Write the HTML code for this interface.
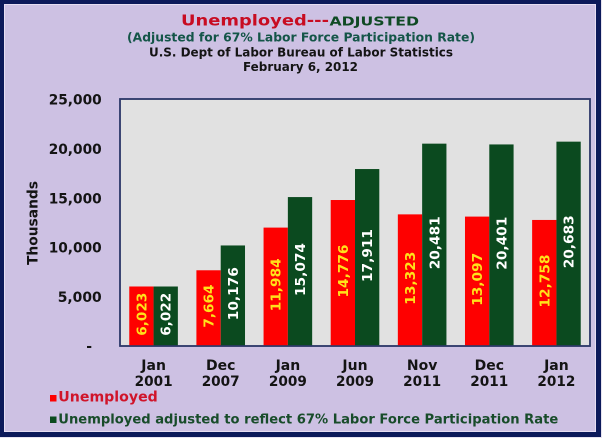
<!DOCTYPE html>
<html><head><meta charset="utf-8"><style>
html,body{margin:0;padding:0;background:#fff;}
svg{display:block;}
text{font-family:"DejaVu Sans","Liberation Sans",sans-serif;font-weight:bold;}
</style></head><body>
<svg width="602" height="438" viewBox="0 0 602 438" xmlns="http://www.w3.org/2000/svg">
<rect x="0" y="0" width="602" height="438" fill="#e8e4f0"/>
<rect x="0" y="0" width="601" height="437" fill="#0c1a5a"/>
<rect x="4" y="4" width="592" height="428" fill="#cdc1e3"/>
<rect x="4.5" y="4.5" width="591" height="427" fill="none" stroke="#e6def2" stroke-width="1"/>

<!-- titles -->
<text x="181" y="25.7" font-size="15.5" fill="#c80c22" textLength="148" lengthAdjust="spacingAndGlyphs">Unemployed---</text>
<text x="329.5" y="25.7" font-size="12.8" fill="#0f4a24" textLength="89.5" lengthAdjust="spacingAndGlyphs">ADJUSTED</text>
<text x="127" y="41.7" font-size="12" fill="#145548" textLength="348" lengthAdjust="spacingAndGlyphs">(Adjusted for 67% Labor Force Participation Rate)</text>
<text x="149" y="56.7" font-size="12" fill="#141414" textLength="304" lengthAdjust="spacingAndGlyphs">U.S. Dept of Labor Bureau of Labor Statistics</text>
<text x="243" y="71" font-size="12" fill="#141414" textLength="115" lengthAdjust="spacingAndGlyphs">February 6, 2012</text>

<!-- plot area -->
<rect x="120" y="99" width="470" height="247" fill="#e1e1e1" stroke="#2e3a6a" stroke-width="1.6"/>

<!-- y labels -->
<g font-size="14" fill="#141414" text-anchor="end">
<text x="101.7" y="104.5" textLength="53" lengthAdjust="spacingAndGlyphs">25,000</text>
<text x="101.7" y="153.9" textLength="53" lengthAdjust="spacingAndGlyphs">20,000</text>
<text x="101.7" y="203.3" textLength="53" lengthAdjust="spacingAndGlyphs">15,000</text>
<text x="101.7" y="252.7" textLength="53" lengthAdjust="spacingAndGlyphs">10,000</text>
<text x="101.7" y="302.1" textLength="44" lengthAdjust="spacingAndGlyphs">5,000</text>
<text x="92" y="351">-</text>
</g>
<text transform="translate(37.3,223) rotate(-90)" font-size="14" fill="#141414" text-anchor="middle" textLength="84" lengthAdjust="spacingAndGlyphs">Thousands</text>

<!-- bars -->
<g>
<rect x="129.27" y="286.49" width="24.3" height="59.51" fill="#fe0000"/>
<rect x="153.57" y="286.5" width="24.3" height="59.5" fill="#0b4a1f"/>
<rect x="196.41" y="270.28" width="24.3" height="75.72" fill="#fe0000"/>
<rect x="220.71" y="245.46" width="24.3" height="100.54" fill="#0b4a1f"/>
<rect x="263.56" y="227.6" width="24.3" height="118.4" fill="#fe0000"/>
<rect x="287.86" y="197.07" width="24.3" height="148.93" fill="#0b4a1f"/>
<rect x="330.7" y="200.01" width="24.3" height="145.99" fill="#fe0000"/>
<rect x="355.0" y="169.04" width="24.3" height="176.96" fill="#0b4a1f"/>
<rect x="397.84" y="214.37" width="24.3" height="131.63" fill="#fe0000"/>
<rect x="422.14" y="143.65" width="24.3" height="202.35" fill="#0b4a1f"/>
<rect x="464.99" y="216.6" width="24.3" height="129.4" fill="#fe0000"/>
<rect x="489.29" y="144.44" width="24.3" height="201.56" fill="#0b4a1f"/>
<rect x="532.13" y="219.95" width="24.3" height="126.05" fill="#fe0000"/>
<rect x="556.43" y="141.65" width="24.3" height="204.35" fill="#0b4a1f"/>
</g>
<rect x="120" y="99" width="470" height="247" fill="none" stroke="#2e3a6a" stroke-width="1.6"/>

<!-- bar labels -->
<g font-size="13.5" text-anchor="middle">
<text transform="translate(146.4,314.2) rotate(-90)" fill="#ffe21a" textLength="43" lengthAdjust="spacingAndGlyphs">6,023</text>
<text transform="translate(170.7,314.3) rotate(-90)" fill="#ffffff" textLength="43" lengthAdjust="spacingAndGlyphs">6,022</text>
<text transform="translate(213.6,306.1) rotate(-90)" fill="#ffe21a" textLength="43" lengthAdjust="spacingAndGlyphs">7,664</text>
<text transform="translate(237.9,293.7) rotate(-90)" fill="#ffffff" textLength="53" lengthAdjust="spacingAndGlyphs">10,176</text>
<text transform="translate(280.7,284.8) rotate(-90)" fill="#ffe21a" textLength="53" lengthAdjust="spacingAndGlyphs">11,984</text>
<text transform="translate(305.0,269.5) rotate(-90)" fill="#ffffff" textLength="53" lengthAdjust="spacingAndGlyphs">15,074</text>
<text transform="translate(347.9,271.0) rotate(-90)" fill="#ffe21a" textLength="53" lengthAdjust="spacingAndGlyphs">14,776</text>
<text transform="translate(372.2,255.5) rotate(-90)" fill="#ffffff" textLength="53" lengthAdjust="spacingAndGlyphs">17,911</text>
<text transform="translate(415.0,278.2) rotate(-90)" fill="#ffe21a" textLength="53" lengthAdjust="spacingAndGlyphs">13,323</text>
<text transform="translate(439.3,242.8) rotate(-90)" fill="#ffffff" textLength="53" lengthAdjust="spacingAndGlyphs">20,481</text>
<text transform="translate(482.1,279.3) rotate(-90)" fill="#ffe21a" textLength="53" lengthAdjust="spacingAndGlyphs">13,097</text>
<text transform="translate(506.4,243.2) rotate(-90)" fill="#ffffff" textLength="53" lengthAdjust="spacingAndGlyphs">20,401</text>
<text transform="translate(549.3,281.0) rotate(-90)" fill="#ffe21a" textLength="53" lengthAdjust="spacingAndGlyphs">12,758</text>
<text transform="translate(573.6,241.8) rotate(-90)" fill="#ffffff" textLength="53" lengthAdjust="spacingAndGlyphs">20,683</text>
</g>

<!-- x labels -->
<g font-size="14" fill="#141414" text-anchor="middle">
<text x="153.6" y="370">Jan</text><text x="153.6" y="386" textLength="38" lengthAdjust="spacingAndGlyphs">2001</text>
<text x="220.7" y="370">Dec</text><text x="220.7" y="386" textLength="38" lengthAdjust="spacingAndGlyphs">2007</text>
<text x="287.9" y="370">Jan</text><text x="287.9" y="386" textLength="38" lengthAdjust="spacingAndGlyphs">2009</text>
<text x="355.0" y="370">Jun</text><text x="355.0" y="386" textLength="38" lengthAdjust="spacingAndGlyphs">2009</text>
<text x="422.1" y="370">Nov</text><text x="422.1" y="386" textLength="38" lengthAdjust="spacingAndGlyphs">2011</text>
<text x="489.3" y="370">Dec</text><text x="489.3" y="386" textLength="38" lengthAdjust="spacingAndGlyphs">2011</text>
<text x="556.4" y="370">Jan</text><text x="556.4" y="386" textLength="38" lengthAdjust="spacingAndGlyphs">2012</text>
</g>

<!-- legend -->
<rect x="50" y="395" width="6.5" height="6.5" fill="#fe0000"/>
<text x="58.3" y="401.3" font-size="14" fill="#d0142a" textLength="99.5" lengthAdjust="spacingAndGlyphs">Unemployed</text>
<rect x="50" y="416.5" width="6.5" height="6.5" fill="#0b4a1f"/>
<text x="58.3" y="423.3" font-size="13.5" fill="#184c2a" textLength="500" lengthAdjust="spacingAndGlyphs">Unemployed adjusted to reflect 67% Labor Force Participation Rate</text>
</svg>
</body></html>
